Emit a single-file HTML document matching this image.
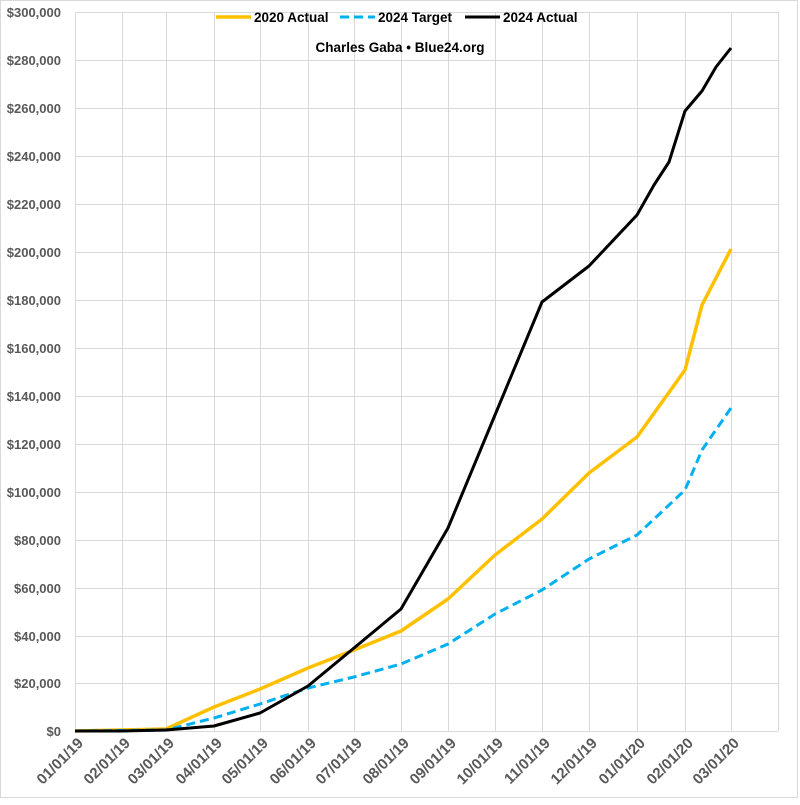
<!DOCTYPE html>
<html><head><meta charset="utf-8"><style>
body{margin:0;background:#fff}
svg text{font-family:"Liberation Sans",Arial,sans-serif;font-weight:bold}
</style></head><body>
<svg width="800" height="800" viewBox="0 0 800 800" xmlns="http://www.w3.org/2000/svg">
<rect x="0.5" y="0.5" width="797" height="797" fill="#fff" stroke="#d9d9d9"/>
<g stroke="#d9d9d9" stroke-width="1">
<line x1="75" y1="12.5" x2="778" y2="12.5"/><line x1="75" y1="60.5" x2="778" y2="60.5"/><line x1="75" y1="108.5" x2="778" y2="108.5"/><line x1="75" y1="156.5" x2="778" y2="156.5"/><line x1="75" y1="204.5" x2="778" y2="204.5"/><line x1="75" y1="252.5" x2="778" y2="252.5"/><line x1="75" y1="300.5" x2="778" y2="300.5"/><line x1="75" y1="348.5" x2="778" y2="348.5"/><line x1="75" y1="396.5" x2="778" y2="396.5"/><line x1="75" y1="444.5" x2="778" y2="444.5"/><line x1="75" y1="492.5" x2="778" y2="492.5"/><line x1="75" y1="540.5" x2="778" y2="540.5"/><line x1="75" y1="588.5" x2="778" y2="588.5"/><line x1="75" y1="636.5" x2="778" y2="636.5"/><line x1="75" y1="683.5" x2="778" y2="683.5"/><line x1="75" y1="731.5" x2="778" y2="731.5"/>
<line x1="75.5" y1="12" x2="75.5" y2="731"/><line x1="122.5" y1="12" x2="122.5" y2="731"/><line x1="166.5" y1="12" x2="166.5" y2="731"/><line x1="214.5" y1="12" x2="214.5" y2="731"/><line x1="260.5" y1="12" x2="260.5" y2="731"/><line x1="308.5" y1="12" x2="308.5" y2="731"/><line x1="354.5" y1="12" x2="354.5" y2="731"/><line x1="401.5" y1="12" x2="401.5" y2="731"/><line x1="448.5" y1="12" x2="448.5" y2="731"/><line x1="495.5" y1="12" x2="495.5" y2="731"/><line x1="542.5" y1="12" x2="542.5" y2="731"/><line x1="589.5" y1="12" x2="589.5" y2="731"/><line x1="637.5" y1="12" x2="637.5" y2="731"/><line x1="685.5" y1="12" x2="685.5" y2="731"/><line x1="731.5" y1="12" x2="731.5" y2="731"/><line x1="778.5" y1="12" x2="778.5" y2="731"/>
</g>
<g fill="#595959" font-size="13" text-anchor="end">
<text x="61" y="17">$300,000</text><text x="61" y="65">$280,000</text><text x="61" y="113">$260,000</text><text x="61" y="161">$240,000</text><text x="61" y="209">$220,000</text><text x="61" y="257">$200,000</text><text x="61" y="305">$180,000</text><text x="61" y="353">$160,000</text><text x="61" y="401">$140,000</text><text x="61" y="449">$120,000</text><text x="61" y="497">$100,000</text><text x="61" y="545">$80,000</text><text x="61" y="593">$60,000</text><text x="61" y="641">$40,000</text><text x="61" y="688">$20,000</text><text x="61" y="736">$0</text>
</g>
<g fill="#595959" font-size="15" text-anchor="end">
<text transform="translate(84,744) rotate(-45)">01/01/19</text><text transform="translate(131,744) rotate(-45)">02/01/19</text><text transform="translate(175,744) rotate(-45)">03/01/19</text><text transform="translate(223,744) rotate(-45)">04/01/19</text><text transform="translate(269,744) rotate(-45)">05/01/19</text><text transform="translate(317,744) rotate(-45)">06/01/19</text><text transform="translate(363,744) rotate(-45)">07/01/19</text><text transform="translate(410,744) rotate(-45)">08/01/19</text><text transform="translate(457,744) rotate(-45)">09/01/19</text><text transform="translate(504,744) rotate(-45)">10/01/19</text><text transform="translate(551,744) rotate(-45)">11/01/19</text><text transform="translate(598,744) rotate(-45)">12/01/19</text><text transform="translate(646,744) rotate(-45)">01/01/20</text><text transform="translate(694,744) rotate(-45)">02/01/20</text><text transform="translate(740,744) rotate(-45)">03/01/20</text>
</g>
<polyline fill="none" stroke="#ffc000" stroke-width="3.5" stroke-linejoin="round" points="75,731 122,730 166,729 214,707 260,689 308,668 354,650 401,631 448,599 495,555 542,519 589,473 637,437 685,370 702,305 731,249"/>
<polyline fill="none" stroke="#00b0f0" stroke-width="3" stroke-dasharray="9,5" points="75,731 166,730 214,718 260,704 308,688 354,677 401,664 448,644 495,614 542,590 589,559 637,535 685,490 702,450 731,408"/>
<polyline fill="none" stroke="#000" stroke-width="3" stroke-linejoin="round" points="75,731 122,731 166,730 214,726 260,713 308,686 354,648 401,609 448,528 495,415 542,302 589,266 637,215 654,185 669,162 685,111 702,91 716,67 731,48"/>
<g font-size="13.5" fill="#000">
<line x1="216" y1="17" x2="251" y2="17" stroke="#ffc000" stroke-width="3.5"/><text x="254" y="22">2020 Actual</text>
<line x1="340" y1="17" x2="375" y2="17" stroke="#00b0f0" stroke-width="3" stroke-dasharray="9,5"/><text x="378" y="22">2024 Target</text>
<line x1="465" y1="17" x2="500" y2="17" stroke="#000" stroke-width="3"/><text x="503" y="22">2024 Actual</text>
</g>
<text x="400" y="52" font-size="13.5" text-anchor="middle" fill="#000">Charles Gaba • Blue24.org</text>
</svg>
</body></html>
